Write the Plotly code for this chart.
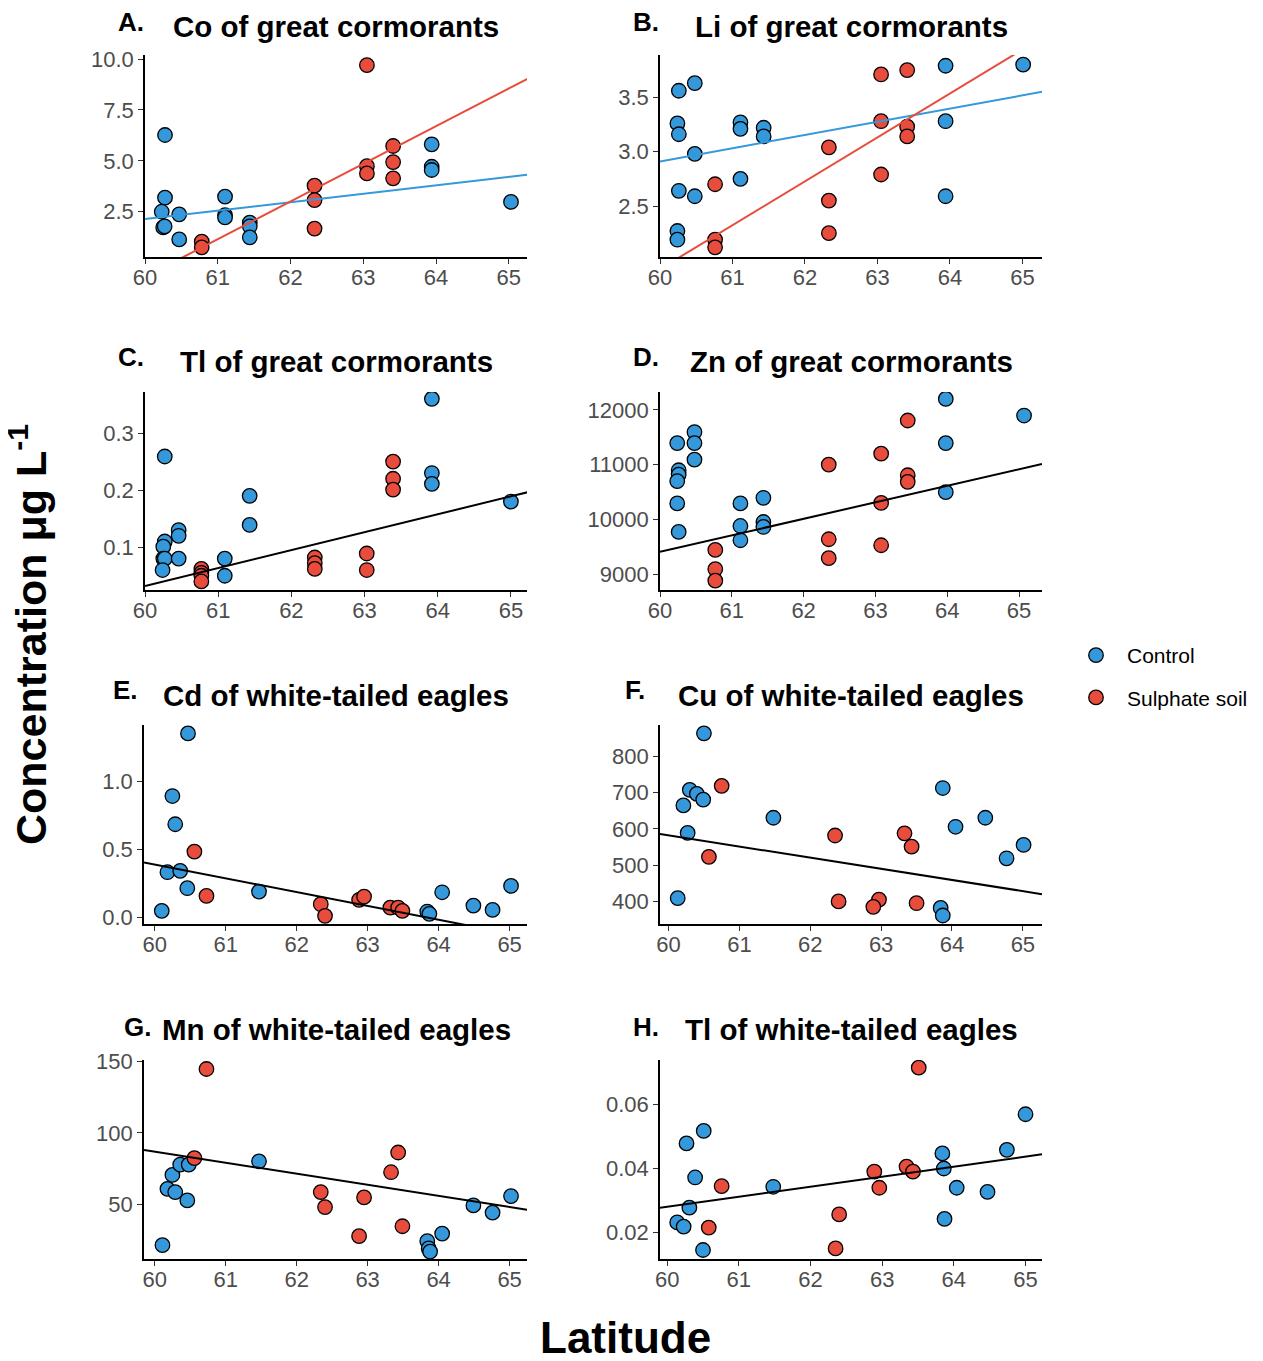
import plotly.graph_objects as go

W, H = 1255, 1353          # figure size (page body adds 8px margin)
OFF = 8                    # body margin offset in the page
BLUE = "#3498DB"
RED = "#E74C3C"
FONT = "Liberation Sans, Arial, sans-serif"

# ---------------- data ----------------
# A. Co of great cormorants
a_ctrl_lat = [60.275, 60.275, 60.23, 60.25, 60.27, 60.47, 60.47, 61.10, 61.10, 61.10, 61.44, 61.44, 61.44, 63.94, 63.94, 63.94, 65.03]
a_ctrl_val = [6.27, 3.19, 2.50, 1.73, 1.78, 2.37, 1.14, 3.24, 2.33, 2.22, 1.96, 1.78, 1.24, 5.81, 4.71, 4.55, 2.98]
a_sulf_lat = [60.78, 60.78, 62.33, 62.33, 62.33, 63.05, 63.05, 63.05, 63.41, 63.41, 63.41]
a_sulf_val = [1.03, 0.75, 3.78, 3.07, 1.67, 9.70, 4.74, 4.38, 5.73, 4.94, 4.14]
a_fit_lat = [60.0, 65.3]
a_fit_ctrl = [2.14, 4.34]
a_fit_sulf = [-0.70, 9.11]

# B. Li of great cormorants
b_ctrl_lat = [60.26, 60.48, 60.24, 60.26, 60.48, 60.26, 60.48, 60.24, 60.24, 61.11, 61.11, 61.43, 61.43, 61.11, 63.94, 63.94, 63.94, 65.01]
b_ctrl_val = [3.56, 3.63, 3.26, 3.16, 2.98, 2.64, 2.59, 2.27, 2.19, 3.27, 3.21, 3.22, 3.14, 2.75, 3.79, 3.28, 2.59, 3.80]
b_sulf_lat = [60.76, 60.76, 60.76, 62.33, 62.33, 62.33, 63.05, 63.05, 63.05, 63.41, 63.41, 63.41]
b_sulf_val = [2.70, 2.19, 2.12, 3.04, 2.55, 2.25, 3.71, 3.28, 2.79, 3.75, 3.23, 3.14]
b_fit_lat = [60.0, 65.3]
b_fit_ctrl = [2.91, 3.554]
b_fit_sulf = [1.92, 4.06]

# C. Tl of great cormorants
c_ctrl_lat = [60.27, 60.27, 60.25, 60.25, 60.27, 60.24, 60.46, 60.46, 60.46, 61.09, 61.09, 61.43, 61.43, 63.92, 63.92, 63.92, 65.0]
c_ctrl_val = [0.259, 0.110, 0.101, 0.080, 0.080, 0.060, 0.130, 0.120, 0.080, 0.080, 0.050, 0.190, 0.139, 0.360, 0.230, 0.211, 0.180]
c_sulf_lat = [60.77, 60.77, 60.77, 60.77, 62.32, 62.32, 62.32, 63.03, 63.03, 63.39, 63.39, 63.39]
c_sulf_val = [0.062, 0.055, 0.050, 0.040, 0.082, 0.072, 0.062, 0.089, 0.060, 0.250, 0.220, 0.201]
c_fit_lat = [60.0, 65.3]
c_fit_all = [0.032, 0.1986]

# D. Zn of great cormorants
d_ctrl_lat = [60.24, 60.48, 60.48, 60.48, 60.26, 60.26, 60.24, 60.24, 60.26, 61.12, 61.12, 61.12, 61.44, 61.44, 61.44, 63.98, 63.98, 63.98, 65.07]
d_ctrl_val = [11394, 11594, 11394, 11091, 10897, 10818, 10697, 10291, 9770, 10291, 9879, 9618, 10394, 9952, 9861, 12200, 11394, 10497, 11897]
d_sulf_lat = [60.77, 60.77, 60.77, 62.35, 62.35, 62.35, 63.08, 63.08, 63.08, 63.45, 63.45, 63.45]
d_sulf_val = [9442, 9091, 8879, 11000, 9636, 9291, 11200, 10300, 9527, 11806, 10806, 10685]
d_fit_lat = [60.0, 65.32]
d_fit_all = [9406, 11012]

# E. Cd of white-tailed eagles
e_ctrl_lat = [60.47, 60.25, 60.29, 60.18, 60.36, 60.46, 60.10, 61.47, 63.84, 63.87, 64.05, 64.49, 64.76, 65.02]
e_ctrl_val = [1.356, 0.894, 0.686, 0.332, 0.342, 0.214, 0.047, 0.189, 0.042, 0.025, 0.184, 0.086, 0.054, 0.231]
e_sulf_lat = [60.56, 60.73, 62.34, 62.40, 62.88, 62.95, 63.32, 63.43, 63.49]
e_sulf_val = [0.484, 0.157, 0.096, 0.010, 0.128, 0.152, 0.071, 0.071, 0.047]
e_fit_lat = [59.85, 65.3]
e_fit_all = [0.404, -0.151]

# F. Cu of white-tailed eagles
f_ctrl_lat = [60.50, 60.21, 60.30, 60.40, 60.49, 60.27, 60.13, 61.48, 63.87, 63.84, 63.87, 64.05, 64.47, 64.77, 65.01]
f_ctrl_val = [864, 665, 708, 697, 681, 589, 409, 631, 713, 382, 361, 606, 631, 519, 556]
f_sulf_lat = [60.75, 60.57, 62.35, 62.40, 62.97, 62.89, 63.33, 63.43, 63.50]
f_sulf_val = [719, 523, 582, 400, 405, 385, 588, 551, 395]
f_fit_lat = [59.88, 65.27]
f_fit_all = [586, 420]

# G. Mn of white-tailed eagles
g_ctrl_lat = [60.11, 60.18, 60.25, 60.29, 60.36, 60.48, 60.46, 61.47, 63.84, 63.86, 63.88, 64.05, 64.49, 64.76, 65.02]
g_ctrl_val = [21.5, 60.9, 70.6, 58.6, 77.8, 77.8, 52.8, 80.1, 24.3, 19.2, 17.0, 29.6, 49.3, 44.2, 55.8]
g_sulf_lat = [60.73, 60.56, 62.34, 62.40, 62.88, 62.95, 63.33, 63.43, 63.49]
g_sulf_val = [144.7, 82.4, 58.6, 48.1, 27.8, 54.9, 72.5, 86.3, 34.7]
g_fit_lat = [59.85, 65.245]
g_fit_all = [88.1, 46.3]

# H. Tl of white-tailed eagles
h_ctrl_lat = [60.14, 60.23, 60.31, 60.27, 60.39, 60.51, 60.50, 61.48, 63.84, 63.86, 63.87, 64.04, 64.47, 64.74, 65.0]
h_ctrl_val = [0.0232, 0.0219, 0.0278, 0.0478, 0.0372, 0.0517, 0.0146, 0.0343, 0.0447, 0.0400, 0.0243, 0.0340, 0.0327, 0.0458, 0.0569]
h_sulf_lat = [60.76, 60.58, 62.35, 62.40, 62.89, 62.96, 63.34, 63.43, 63.51]
h_sulf_val = [0.0345, 0.0216, 0.0151, 0.0257, 0.0390, 0.0340, 0.0406, 0.0390, 0.0714]
h_fit_lat = [59.90, 65.23]
h_fit_all = [0.02774, 0.0444]

panel_letters = ["A.", "B.", "C.", "D.", "E.", "F.", "G.", "H."]
panel_titles = ["Co of great cormorants", "Li of great cormorants", "Tl of great cormorants",
                "Zn of great cormorants", "Cd of white-tailed eagles", "Cu of white-tailed eagles",
                "Mn of white-tailed eagles", "Tl of white-tailed eagles"]
group_names = ["Control", "Sulphate soil"]
x_tick_vals = [60, 61, 62, 63, 64, 65]
y_ticks = [
    [2.5, 5.0, 7.5, 10.0], [2.5, 3.0, 3.5], [0.1, 0.2, 0.3], [9000, 10000, 11000, 12000],
    [0.0, 0.5, 1.0], [400, 500, 600, 700, 800], [50, 100, 150], [0.02, 0.04, 0.06],
]
y_fmt = [".1f", ".1f", ".1f", "d", ".1f", "d", "d", ".2f"]

# ---------------- layout geometry (page pixels) ----------------
x_ranges = [[60.0, 65.25], [60.0, 65.27], [60.0, 65.22], [60.0, 65.32],
            [59.85, 65.245], [59.88, 65.27], [59.85, 65.245], [59.90, 65.23]]
y_ranges = [[0.275, 10.2], [2.031, 3.889], [0.025, 0.372], [8709, 12327],
            [-0.05, 1.418], [337.6, 887], [11.8, 151], [0.0118, 0.0738]]
col_px = [(145, 527), (660, 1042)]
row_px = [(55, 257), (392, 590), (725, 924), (1060, 1259)]
letter_x = [131, 646, 131, 646, 125, 635, 137, 646]
letter_y = [22, 22, 357, 357, 690, 690, 1027, 1027]
title_y = [26, 26, 361, 361, 695, 695, 1029, 1029]


def fx(px):
    return (px - OFF) / W


def fy(py):
    return 1 - (py - OFF) / H


panels = [
    (a_ctrl_lat, a_ctrl_val, a_sulf_lat, a_sulf_val, [(a_fit_lat, a_fit_ctrl, BLUE), (a_fit_lat, a_fit_sulf, RED)]),
    (b_ctrl_lat, b_ctrl_val, b_sulf_lat, b_sulf_val, [(b_fit_lat, b_fit_ctrl, BLUE), (b_fit_lat, b_fit_sulf, RED)]),
    (c_ctrl_lat, c_ctrl_val, c_sulf_lat, c_sulf_val, [(c_fit_lat, c_fit_all, "black")]),
    (d_ctrl_lat, d_ctrl_val, d_sulf_lat, d_sulf_val, [(d_fit_lat, d_fit_all, "black")]),
    (e_ctrl_lat, e_ctrl_val, e_sulf_lat, e_sulf_val, [(e_fit_lat, e_fit_all, "black")]),
    (f_ctrl_lat, f_ctrl_val, f_sulf_lat, f_sulf_val, [(f_fit_lat, f_fit_all, "black")]),
    (g_ctrl_lat, g_ctrl_val, g_sulf_lat, g_sulf_val, [(g_fit_lat, g_fit_all, "black")]),
    (h_ctrl_lat, h_ctrl_val, h_sulf_lat, h_sulf_val, [(h_fit_lat, h_fit_all, "black")]),
]

fig = go.Figure()
layout = {}
annotations = []

for i, (cl, cv, sl, sv, fits) in enumerate(panels):
    n = i + 1
    xa = "x" if n == 1 else f"x{n}"
    ya = "y" if n == 1 else f"y{n}"
    col = i % 2
    row = i // 2
    x0, x1 = col_px[col]
    if i in (4, 6):
        x0 = 144
    t, b = row_px[row]
    marker_common = dict(size=14.5, line=dict(color="black", width=1.3))
    fig.add_trace(go.Scatter(x=cl, y=cv, mode="markers", xaxis=xa, yaxis=ya,
                             marker=dict(color=BLUE, **marker_common),
                             name=group_names[0], legendgroup="c", showlegend=(i == 0)))
    fig.add_trace(go.Scatter(x=sl, y=sv, mode="markers", xaxis=xa, yaxis=ya,
                             marker=dict(color=RED, **marker_common),
                             name=group_names[1], legendgroup="s", showlegend=(i == 0)))
    for fxs, fys, fc in fits:
        fig.add_trace(go.Scatter(x=fxs, y=fys, mode="lines", xaxis=xa, yaxis=ya,
                                 line=dict(color=fc, width=2), showlegend=False, hoverinfo="skip"))
    axis_common = dict(showline=True, linecolor="black", linewidth=1.6, ticks="outside",
                       ticklen=5, tickwidth=1.3, tickcolor="#333333", showgrid=False, zeroline=False,
                       automargin=False,
                       tickfont=dict(family=FONT, size=22, color="#4D4D4D"))
    layout["xaxis" if n == 1 else f"xaxis{n}"] = dict(
        domain=[fx(x0), fx(x1)], range=x_ranges[i], anchor=ya,
        tickvals=x_tick_vals, ticklabelstandoff=-5, **axis_common)
    layout["yaxis" if n == 1 else f"yaxis{n}"] = dict(
        domain=[fy(b), fy(t)], range=y_ranges[i], anchor=xa,
        tickvals=y_ticks[i], tickformat=y_fmt[i], **axis_common)
    cx = (col_px[col][0] + col_px[col][1]) / 2
    annotations.append(dict(text=f"<b>{panel_titles[i]}</b>", x=fx(cx), y=fy(title_y[i]),
                            xref="paper", yref="paper", xanchor="center", yanchor="middle",
                            showarrow=False, font=dict(family=FONT, size=29.5, color="black")))
    annotations.append(dict(text=f"<b>{panel_letters[i]}</b>", x=fx(letter_x[i]), y=fy(letter_y[i]),
                            xref="paper", yref="paper", xanchor="center", yanchor="middle",
                            showarrow=False, font=dict(family=FONT, size=26, color="black")))

annotations.append(dict(text="<b>Concentration μg L<sup>-1</sup></b>", x=fx(28), y=fy(635),
                        xref="paper", yref="paper", xanchor="center", yanchor="middle", textangle=-90,
                        showarrow=False, font=dict(family=FONT, size=43, color="black")))
annotations.append(dict(text="<b>Latitude</b>", x=fx(625), y=fy(1337),
                        xref="paper", yref="paper", xanchor="center", yanchor="middle",
                        showarrow=False, font=dict(family=FONT, size=44, color="black")))

fig.update_layout(
    width=W, height=H,
    margin=dict(l=0, r=0, t=0, b=0, pad=0, autoexpand=False),
    paper_bgcolor="white", plot_bgcolor="white",
    showlegend=True,
    legend=dict(x=fx(1065), y=fy(635), xanchor="left", yanchor="top",
                font=dict(family=FONT, size=21, color="black"),
                itemwidth=52, tracegroupgap=12, bgcolor="rgba(0,0,0,0)"),
    annotations=annotations,
    **layout,
)

fig.write_html("out.html")
